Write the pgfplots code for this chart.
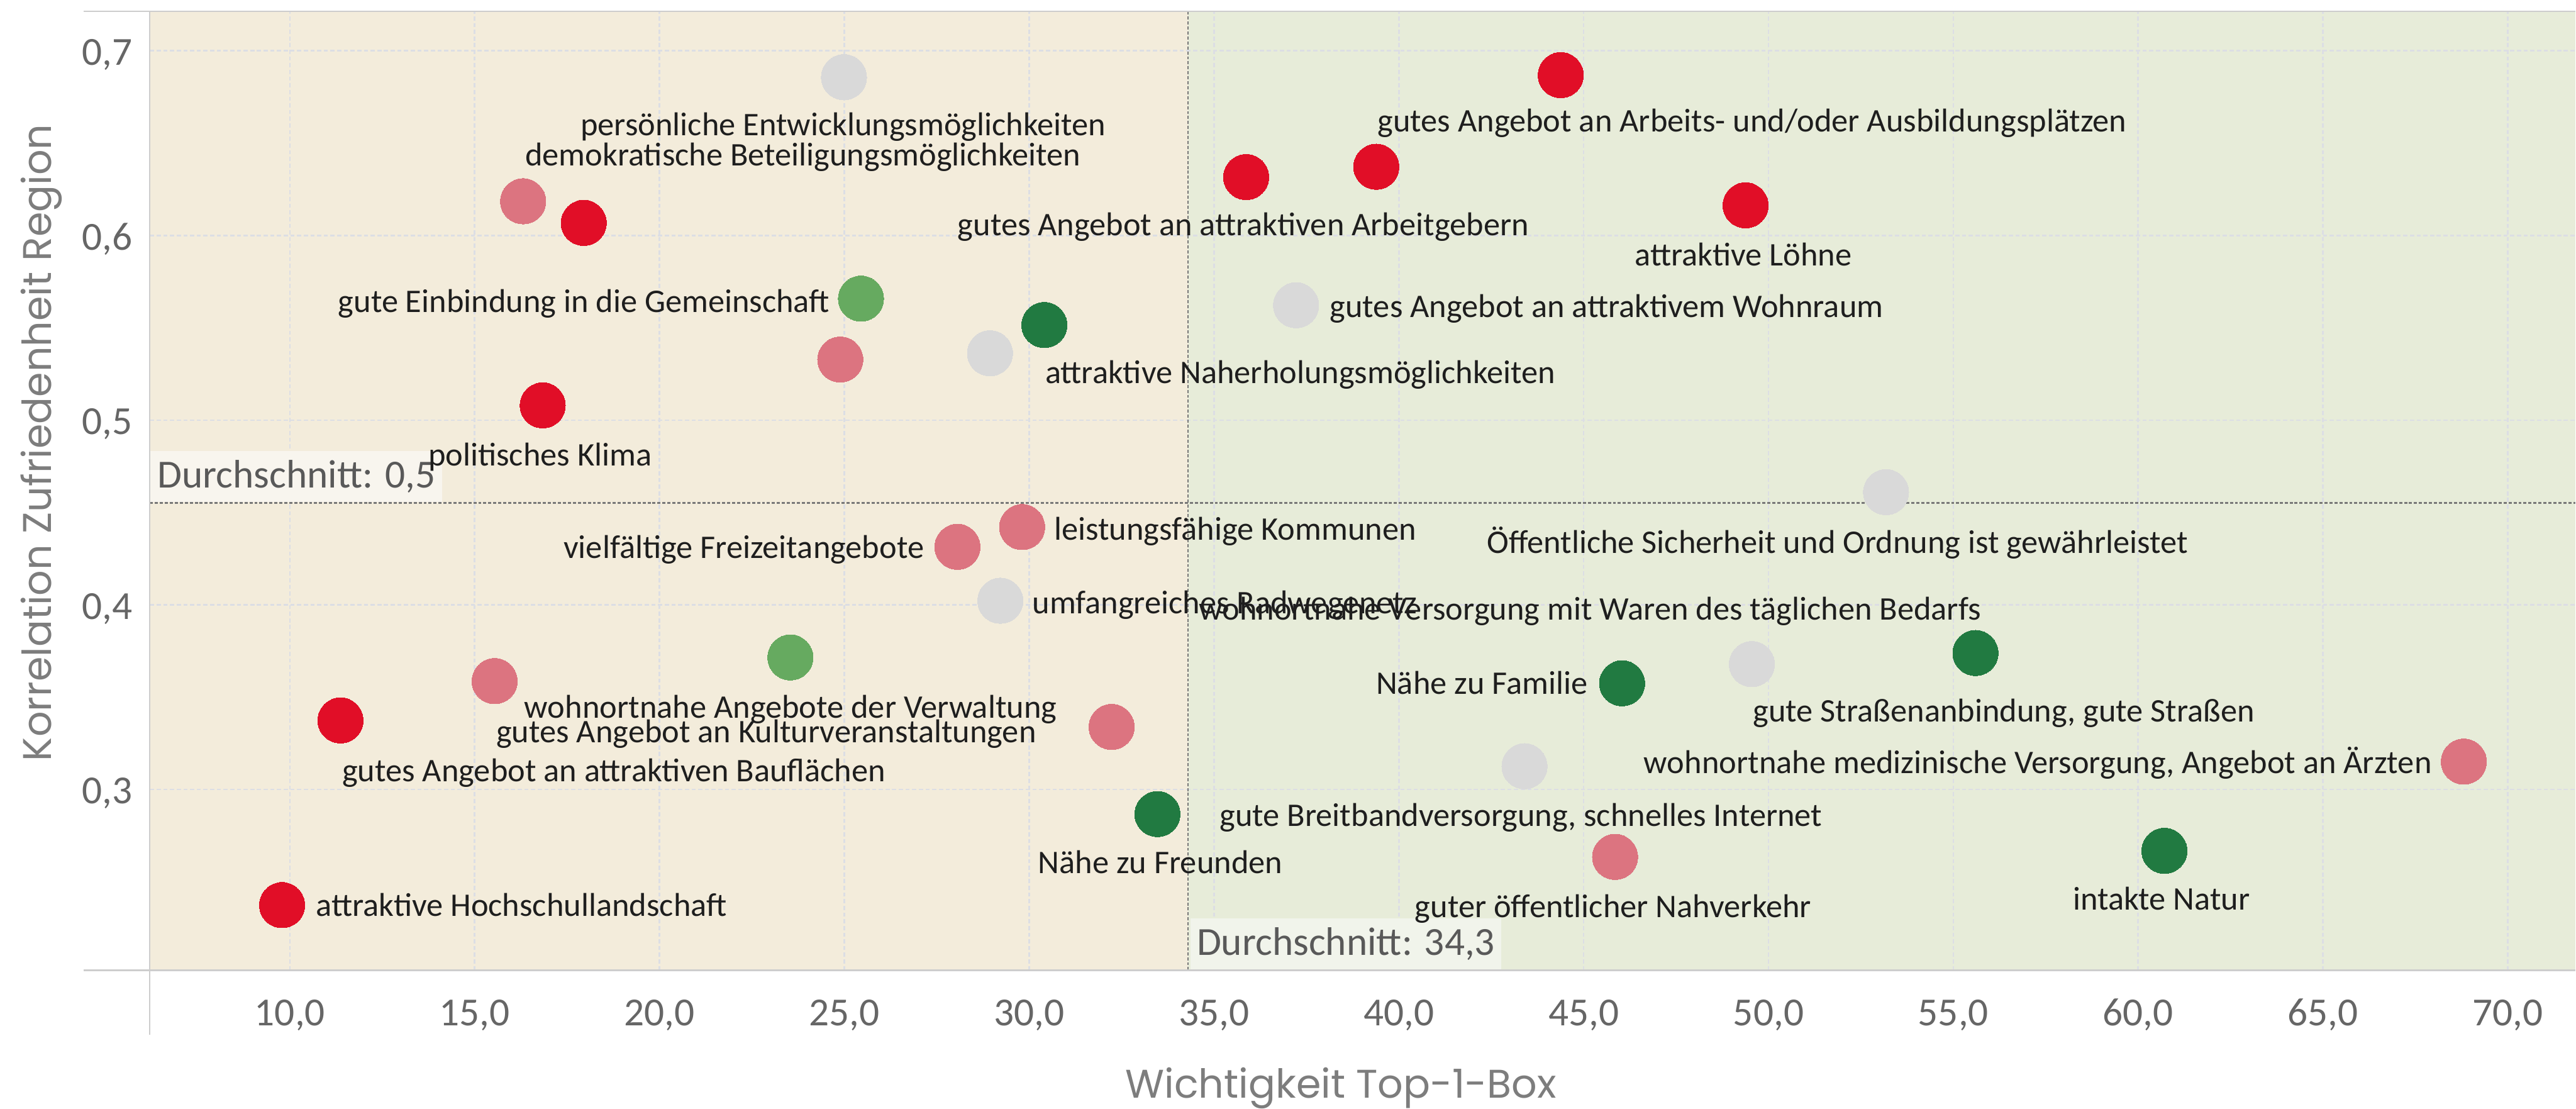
\documentclass[border=0pt]{standalone}
\usepackage{fontspec}
\setmainfont{Carlito}
\newfontfamily\titlefont{Poppins}
\usepackage{pgfplots}
\pgfplotsset{compat=1.18}
\definecolor{cRed}{RGB}{225,14,39}
\definecolor{cPink}{RGB}{220,116,128}
\definecolor{cGrey}{RGB}{217,217,217}
\definecolor{cLGreen}{RGB}{102,170,96}
\definecolor{cDGreen}{RGB}{33,122,65}
\definecolor{bgBeige}{RGB}{243,236,219}
\definecolor{bgGreen}{RGB}{231,236,217}
\definecolor{boxBeige}{RGB}{248,245,238}
\definecolor{boxGreen}{RGB}{241,244,235}
\definecolor{gridc}{RGB}{220,222,228}
\definecolor{avgc}{RGB}{120,120,120}
\definecolor{axc}{RGB}{205,205,205}
\definecolor{tickc}{RGB}{102,102,102}
\definecolor{titlec}{RGB}{125,125,125}
\definecolor{labc}{RGB}{30,30,30}
\tikzset{lab/.style={font=\fontsize{10.6}{12}\selectfont, text=labc, inner sep=0pt, text height=6.6pt, text depth=0pt}}
\begin{document}
\begin{tikzpicture}
\begin{axis}[
  at={(0pt,0pt)}, anchor=south west,
  scale only axis, width=779.8pt, height=308.3pt,
  xmin=6.214, xmax=71.82, ymin=0.20214, ymax=0.72142,
  set layers, clip=false,
  axis line style={draw=none},
  tick style={draw=none}, major tick length=0pt,
  xtick={10,15,...,70}, ytick={0.3,0.4,0.5,0.6,0.7},
  grid=major,
  grid style={draw=gridc, line width=0.55pt, dash pattern=on 1.35pt off 0.8pt},
  /pgf/number format/use comma,
  /pgf/number format/fixed,
  /pgf/number format/fixed zerofill,
  /pgf/number format/precision=1,
  /pgf/number format/assume math mode=true,
  ticklabel style={font=\fontsize{12.8}{14}\selectfont, text=tickc, inner sep=0pt},
  xticklabel style={anchor=base, yshift=-17.9pt},
  yticklabel style={anchor=base east, xshift=-5.4pt, yshift=-4.6pt},
]
% quadrant backgrounds
\addplot[fill=bgBeige, draw=none, on layer=axis background] coordinates {(6.214,0.20214) (34.3,0.20214) (34.3,0.72142) (6.214,0.72142)};
\addplot[fill=bgGreen, draw=none, on layer=axis background] coordinates {(34.3,0.20214) (71.82,0.20214) (71.82,0.72142) (34.3,0.72142)};
% average lines
\addplot[avgc, line width=0.47pt, dash pattern=on 1pt off 0.6pt] coordinates {(34.3,0.20214) (34.3,0.72142)};
\addplot[avgc, line width=0.47pt, dash pattern=on 1pt off 0.6pt] coordinates {(6.214,0.4552) (71.82,0.4552)};
\node[anchor=south west, fill=boxBeige, inner xsep=2.2pt, inner ysep=0pt, text height=11.86pt, text depth=4.66pt, font=\fontsize{12.8}{14}\selectfont, text=black!65] at (axis cs:6.214,0.4552) {Durchschnitt: 0,5};
\node[anchor=south west, fill=boxGreen, inner xsep=2pt, inner ysep=0pt, text height=11.8pt, text depth=4.6pt, font=\fontsize{12.8}{14}\selectfont, text=black!65] at ([xshift=0.6pt]axis cs:34.3,0.20214) {Durchschnitt: 34,3};
% data
\addplot[only marks, mark=*, mark size=7.3pt, color=cRed, mark options={line width=0pt}] coordinates {
(9.79,0.2374) (11.37,0.3374) (16.84,0.5080) (17.95,0.6068) (35.87,0.6316) (39.39,0.6372) (44.38,0.6868) (49.38,0.6163)};
\addplot[only marks, mark=*, mark size=7.3pt, color=cPink, mark options={line width=0pt}] coordinates {
(15.54,0.3587) (16.31,0.6185) (24.89,0.5328) (28.06,0.4314) (29.81,0.4421) (32.23,0.3339) (45.85,0.2635) (68.81,0.3151)};
\addplot[only marks, mark=*, mark size=7.3pt, color=cGrey, mark options={line width=0pt}] coordinates {
(24.99,0.6857) (28.94,0.5362) (29.22,0.4022) (37.22,0.5622) (43.40,0.3126) (49.55,0.3679) (53.18,0.4610)};
\addplot[only marks, mark=*, mark size=7.3pt, color=cLGreen, mark options={line width=0pt}] coordinates {
(23.54,0.3715) (25.45,0.5658)};
\addplot[only marks, mark=*, mark size=7.3pt, color=cDGreen, mark options={line width=0pt}] coordinates {
(30.41,0.5515) (33.47,0.2867) (46.04,0.3575) (55.60,0.3739) (60.71,0.2668)};
% labels
\node[lab, anchor=center] at (axis cs:24.97,0.6596) {persönliche Entwicklungsmöglichkeiten};
\node[lab, anchor=center] at (axis cs:23.88,0.6433) {demokratische Beteiligungsmöglichkeiten};
\node[lab, anchor=east] at (axis cs:24.62,0.5640) {gute Einbindung in die Gemeinschaft};
\node[lab, anchor=center] at (axis cs:16.77,0.4809) {politisches Klima};
\node[lab, anchor=west] at (axis cs:39.41,0.6618) {gutes Angebot an Arbeits- und/oder Ausbildungsplätzen};
\node[lab, anchor=west] at (axis cs:28.05,0.6055) {gutes Angebot an attraktiven Arbeitgebern};
\node[lab, anchor=center] at (axis cs:49.32,0.5892) {attraktive Löhne};
\node[lab, anchor=west] at (axis cs:38.12,0.5611) {gutes Angebot an attraktivem Wohnraum};
\node[lab, anchor=west] at (axis cs:30.42,0.5255) {attraktive Naherholungsmöglichkeiten};
\node[lab, anchor=west] at (axis cs:42.37,0.4335) {Öffentliche Sicherheit und Ordnung ist gewährleistet};
\node[lab, anchor=east] at (axis cs:27.17,0.4306) {vielfältige Freizeitangebote};
\node[lab, anchor=west] at (axis cs:30.66,0.4405) {leistungsfähige Kommunen};
\node[lab, anchor=west] at (axis cs:30.07,0.4007) {umfangreiches Radwegenetz};
\node[lab, anchor=west] at (axis cs:34.58,0.3974) {wohnortnahe Versorgung mit Waren des täglichen Bedarfs};
\node[lab, anchor=east] at (axis cs:45.12,0.3571) {Nähe zu Familie};
\node[lab, anchor=west] at (axis cs:16.33,0.3443) {wohnortnahe Angebote der Verwaltung};
\node[lab, anchor=west] at (axis cs:15.57,0.3310) {gutes Angebot an Kulturveranstaltungen};
\node[lab, anchor=west] at (axis cs:11.40,0.3100) {gutes Angebot an attraktiven Bauflächen};
\node[lab, anchor=west] at (axis cs:10.69,0.2370) {attraktive Hochschullandschaft};
\node[lab, anchor=west] at (axis cs:30.23,0.2602) {Nähe zu Freunden};
\node[lab, anchor=west] at (axis cs:35.14,0.2856) {gute Breitbandversorgung, schnelles Internet};
\node[lab, anchor=west] at (axis cs:40.42,0.2363) {guter öffentlicher Nahverkehr};
\node[lab, anchor=west] at (axis cs:49.57,0.3421) {gute Straßenanbindung, gute Straßen};
\node[lab, anchor=east] at (axis cs:67.96,0.3144) {wohnortnahe medizinische Versorgung, Angebot an Ärzten};
\node[lab, anchor=west] at (axis cs:58.22,0.2403) {intakte Natur};
% axis titles
\node[rotate=90, anchor=base, inner sep=0pt, font=\titlefont\fontsize{12.85}{14}\selectfont, text=titlec] at ([xshift=-31.8pt]rel axis cs:0,0.5501) {Korrelation Zufriedenheit Region};
\node[anchor=base, inner sep=0pt, font=\titlefont\fontsize{12.85}{14}\selectfont, text=titlec] at ([yshift=-41.1pt]rel axis cs:0.4911,0) {Wichtigkeit Top-1-Box};
\end{axis}
\draw[axc, line width=0.4pt] ([xshift=-21.4pt]current axis.north west) -- (current axis.north east);
\draw[axc, line width=0.6pt] ([xshift=-21.4pt]current axis.south west) -- (current axis.south east);
\draw[axc, line width=0.4pt] (current axis.north west) -- ([yshift=-20.7pt]current axis.south west);
\path (-48.2pt,-44.1pt) rectangle (779.8pt,311.9pt);
\end{tikzpicture}
\end{document}
